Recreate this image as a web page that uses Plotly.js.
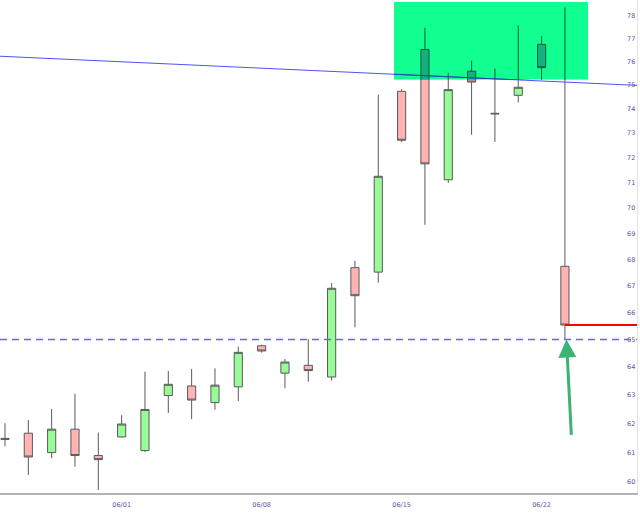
<!DOCTYPE html>
<html>
<head>
<meta charset="utf-8">
<script src="https://cdn.plot.ly/plotly-3.0.1.min.js"></script>
<style>html,body{margin:0;padding:0;background:#fff;}#chart{width:640px;height:515px;}</style>
</head>
<body>
<div id="chart"></div>
<script>
var dates = ["05/26","05/27","05/28","05/29","05/31","06/01","06/02","06/03","06/04","06/05","06/07","06/08","06/09","06/10","06/11","06/12","06/14","06/15","06/16","06/17","06/18","06/19","06/21","06/22","06/23"];
var opens  = [61.48,61.66,60.99,61.80,60.89,61.53,61.06,62.98,63.32,62.73,63.29,64.77,63.78,64.06,63.64,67.68,67.51,74.74,76.52,71.11,75.59,73.82,74.57,76.74,67.73];
var highs  = [62.01,62.12,62.51,63.04,61.68,62.29,63.83,63.86,63.93,63.95,64.74,64.81,64.29,65.01,67.10,67.94,74.60,74.82,77.46,75.52,76.04,75.71,77.56,77.11,78.35];
var lows   = [61.21,60.23,60.80,60.51,59.72,61.52,61.01,62.37,62.15,62.48,62.79,64.52,63.24,63.47,63.51,65.45,67.11,72.64,69.33,70.99,72.93,72.64,74.27,75.21,65.00];
var closes = [61.45,60.84,61.80,60.89,60.75,61.98,62.49,63.38,62.82,63.35,64.53,64.58,64.18,63.87,66.90,66.62,71.25,72.71,71.75,74.81,75.13,73.80,74.91,75.74,65.53];
var xTickLabels = ["06/01","06/08","06/15","06/22"];
var yTickVals = [60,61,62,63,64,65,66,67,68,69,70,71,72,73,74,75,76,77,78];
var trendStart = 76.23, trendEnd = 74.99;
var zoneLow = 75.23, zoneHigh = 78.60, zoneStart = 16.67, zoneEnd = 25.0;

var last = closes.length - 1;
var lastClose = closes[last];
var lastLow = lows[last];

var xr = [-0.214, 27.09];
var yr = [Math.log10(59.62), Math.log10(78.68)];
var zoneXDomain = [(zoneStart - xr[0]) / (xr[1] - xr[0]), (zoneEnd - xr[0]) / (xr[1] - xr[0])];
var zoneYDomain = [(Math.log10(zoneLow) - yr[0]) / (yr[1] - yr[0]), (Math.log10(zoneHigh) - yr[0]) / (yr[1] - yr[0])];

var main = {
  type: 'candlestick',
  x: dates, open: opens, high: highs, low: lows, close: closes,
  increasing: {fillcolor: '#98fb98', line: {color: '#5a5a5a', width: 1}},
  decreasing: {fillcolor: '#ffb3b3', line: {color: '#5a5a5a', width: 1}},
  whiskerwidth: 0, hoverinfo: 'none', showlegend: false
};
// same candles seen through the highlighted zone (tinted), clipped to zone subplot
var tinted = {
  type: 'candlestick', xaxis: 'x2', yaxis: 'y2',
  x: dates, open: opens, high: highs, low: lows, close: closes,
  increasing: {fillcolor: '#0cf985', line: {color: '#0a5c34', width: 1}},
  decreasing: {fillcolor: '#14b07f', line: {color: '#0a5c34', width: 1}},
  whiskerwidth: 0, hoverinfo: 'none', showlegend: false
};

var tickFont = {family: 'DejaVu Sans, sans-serif', size: 6.5, color: '#5656a6'};

var layout = {
  width: 640, height: 515,
  margin: {l: 0, r: 3, t: 0, b: 22, pad: 0},
  paper_bgcolor: '#ffffff', plot_bgcolor: 'rgba(0,0,0,0)',
  showlegend: false,
  boxgap: 0.5,
  xaxis: {
    type: 'category', range: xr,
    tickvals: xTickLabels, ticktext: xTickLabels,
    showgrid: false, zeroline: false,
    showline: true, linecolor: '#b4b4b4', linewidth: 2,
    ticks: '', tickfont: tickFont, ticklabelstandoff: 4,
    rangeslider: {visible: false}, fixedrange: true
  },
  yaxis: {
    type: 'log', range: yr, side: 'right',
    tickvals: yTickVals, ticktext: yTickVals.map(String),
    ticklabelposition: 'inside',
    showgrid: false, zeroline: false,
    showline: true, linecolor: '#e4e4e4', linewidth: 1,
    ticks: '', tickfont: tickFont, fixedrange: true
  },
  xaxis2: {
    type: 'category', domain: zoneXDomain, anchor: 'y2',
    range: [zoneStart, zoneEnd], categoryorder: 'array', categoryarray: dates,
    visible: false, showgrid: false, zeroline: false,
    rangeslider: {visible: false}, fixedrange: true
  },
  yaxis2: {
    type: 'log', domain: zoneYDomain, anchor: 'x2',
    range: [Math.log10(zoneLow), Math.log10(zoneHigh)],
    visible: false, showgrid: false, zeroline: false, fixedrange: true
  },
  shapes: [
    {type: 'line', xref: 'paper', yref: 'y', x0: 0, x1: 1, y0: trendStart, y1: trendEnd,
     line: {color: '#5050ff', width: 1}, layer: 'above'},
    {type: 'rect', xref: 'x2', yref: 'y2', x0: zoneStart, x1: zoneEnd, y0: zoneLow, y1: zoneHigh,
     fillcolor: '#10ff90', line: {width: 0}, layer: 'below'},
    {type: 'line', xref: 'x2', yref: 'y2', x0: xr[0], x1: xr[1], y0: trendStart, y1: trendEnd,
     line: {color: '#1450a0', width: 1}, layer: 'above'},
    {type: 'line', xref: 'paper', yref: 'y', x0: 0, x1: 1, y0: lastLow, y1: lastLow,
     line: {color: '#6666ff', width: 1.4, dash: '7px,5px'}, layer: 'above'},
    {type: 'line', xref: 'x', yref: 'y', x0: last, x1: 27.2, y0: lastClose, y1: lastClose,
     line: {color: '#ff0000', width: 2}, layer: 'above'}
  ],
  annotations: [
    {x: last, y: Math.log10(lastLow), xref: 'x', yref: 'y', text: '', showarrow: true,
     ax: 5, ay: 97, arrowcolor: '#3cb371', arrowwidth: 3, arrowhead: 2, arrowsize: 1.2, xshift: 1.5}
  ]
};

Plotly.newPlot('chart', [main, tinted], layout, {staticPlot: true, displayModeBar: false});
</script>
</body>
</html>
